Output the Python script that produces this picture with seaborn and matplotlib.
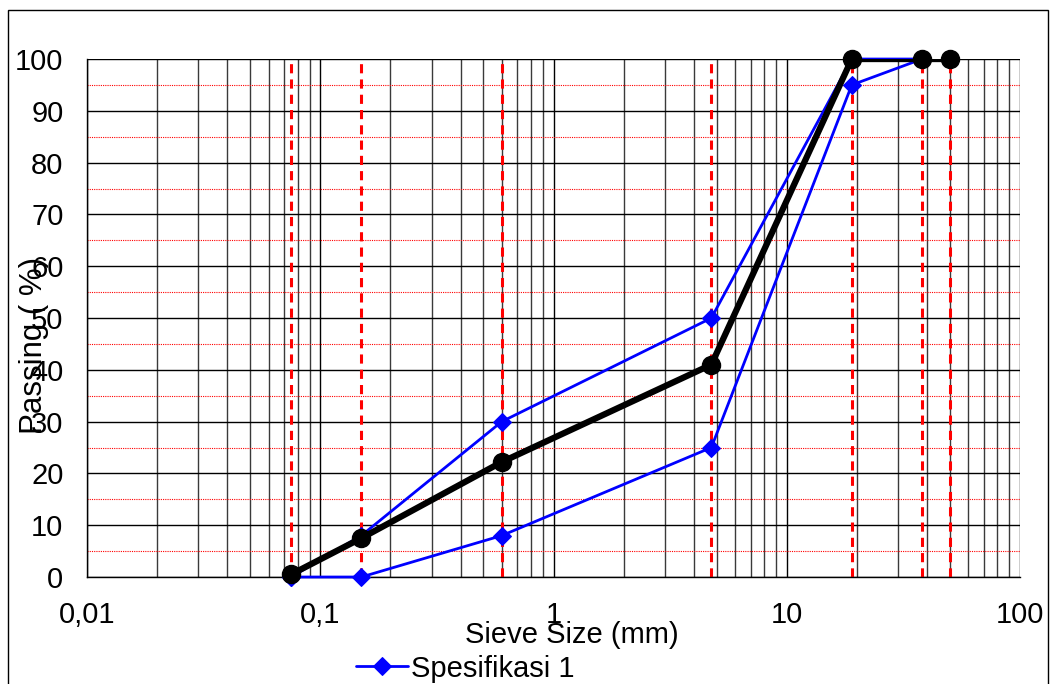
"""
Sieve analysis gradation chart
"""
import matplotlib
matplotlib.use("Agg")
import matplotlib.pyplot as plt
import matplotlib.ticker as mticker
from matplotlib.patches import Rectangle
import seaborn as sns
import pandas as pd
import numpy as np

sns.set_style("white")
plt.rcParams['font.family'] = ['Liberation Sans', 'DejaVu Sans']
plt.rcParams['text.color'] = 'black'
plt.rcParams['axes.labelcolor'] = 'black'
plt.rcParams['xtick.color'] = 'black'
plt.rcParams['ytick.color'] = 'black'

# sieve sizes (mm) and passing (%)
sieve = [0.075, 0.15, 0.6, 4.75, 19, 38, 50]
spec_upper_size = [0.075, 0.15, 0.6, 4.75, 19, 38]
spec_upper = [0, 8, 30, 50, 100, 100]
spec_lower_size = [0.075, 0.15, 0.6, 4.75, 19, 38]
spec_lower = [0, 0, 8, 25, 95, 100]
passing = [0.5, 7.5, 22.2, 41, 100, 100, 100]

xtick_vals = [0.01, 0.1, 1, 10, 100]
xtick_labels = ['0,01', '0,1', '1', '10', '100']

upper = pd.DataFrame({'size': spec_upper_size, 'pass': spec_upper})
lower = pd.DataFrame({'size': spec_lower_size, 'pass': spec_lower})
result = pd.DataFrame({'size': sieve, 'pass': passing})

fig = plt.figure(figsize=(10.52, 6.84), dpi=100)
ax = fig.add_axes([0.0827, 0.1564, 0.8869, 0.7573])

# figure border
fig.patches.append(Rectangle((8 / 1052, -0.1), 1040 / 1052, 1.1 - 10 / 684,
                             transform=fig.transFigure, fill=False,
                             edgecolor='black', linewidth=1))

ax.set_xscale('log')
ax.set_xlim(0.01, 100)
ax.set_ylim(0, 100)

# grid
ax.set_yticks(np.arange(0, 101, 10))
ax.set_yticks(np.arange(5, 100, 10), minor=True)
ax.xaxis.set_minor_locator(mticker.LogLocator(base=10, subs=np.arange(2, 10)))
ax.set_xticks(xtick_vals)
ax.set_xticklabels(xtick_labels)
ax.xaxis.set_minor_formatter(mticker.NullFormatter())
ax.grid(True, which='major', axis='both', color='black', linewidth=1)
ax.grid(True, which='minor', axis='x', color='#3a3a3a', linewidth=1)
ax.grid(True, which='minor', axis='y', color='red', linewidth=0.8, linestyle=(0, (1, 1)))
ax.set_axisbelow(True)

ax.tick_params(axis='both', which='major', direction='out', length=8, width=1,
               labelsize=21, pad=9, color='black', labelcolor='black')
ax.tick_params(axis='both', which='minor', direction='in', length=5, width=1)
ax.tick_params(axis='x', which='minor', length=0)

for side in ['top', 'right']:
    ax.spines[side].set_visible(False)
for side in ['left', 'bottom']:
    ax.spines[side].set_color('black')
    ax.spines[side].set_linewidth(1)

# sieve size markers
ax.vlines(sieve, 0, 100, colors='red', linestyles=(0, (3, 2)), linewidth=2.2, zorder=2)

# specification envelope
sns.lineplot(data=upper, x='size', y='pass', ax=ax, color='blue', linewidth=2,
             marker='D', markersize=9, markeredgecolor='blue', label='Spesifikasi 1',
             zorder=3, clip_on=False)
sns.lineplot(data=lower, x='size', y='pass', ax=ax, color='blue', linewidth=2,
             marker='D', markersize=9, markeredgecolor='blue', zorder=3, clip_on=False)

# test result
sns.lineplot(data=result, x='size', y='pass', ax=ax, color='black', linewidth=4.5,
             zorder=4)
ax.plot(result['size'], result['pass'], linestyle='none', marker='o', markersize=13,
        color='black', zorder=5, clip_on=False)

ax.set_xlabel('Sieve Size (mm)', fontsize=21)
ax.set_ylabel('Passing ( %)', fontsize=22.5)
ax.xaxis.set_label_coords(0.52, -0.085)
ax.yaxis.set_label_coords(-0.041, 0.448)

handles, labels = ax.get_legend_handles_labels()
ax.legend(handles[:1], labels[:1], loc='upper left', bbox_to_anchor=(0.327, 0.06),
          bbox_transform=fig.transFigure, frameon=False, fontsize=21,
          handlelength=1.8, handletextpad=0.1, borderaxespad=0)

fig.savefig('out.png', dpi=100)
